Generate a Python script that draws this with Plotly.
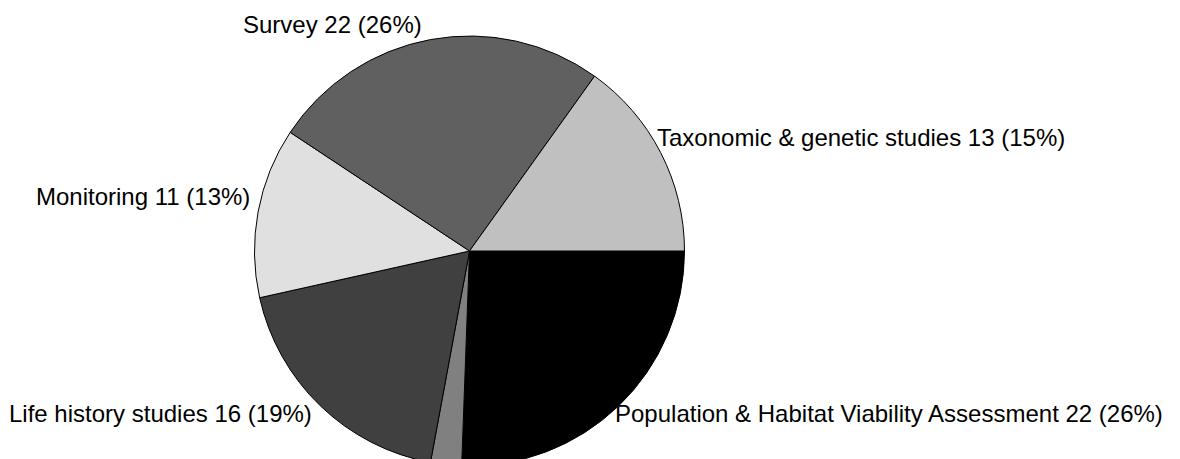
import math
import plotly.graph_objects as go

labels = ["Population & Habitat Viability Assessment", "Other", "Life history studies",
          "Monitoring", "Survey", "Taxonomic & genetic studies"]
values = [22, 2, 16, 11, 22, 13]
colors = ["#000000", "#808080", "#404040", "#e0e0e0", "#606060", "#c0c0c0"]
show_label = [True, False, True, True, True, True]

W, H = 1180, 480
cx, cy, r = 461.5, 243, 215   # pie centre / radius in figure pixels
font = dict(family="Liberation Sans, Arial, sans-serif", size=24, color="#000000")

fig = go.Figure(go.Pie(
    labels=labels,
    values=values,
    sort=False,
    direction="clockwise",
    rotation=90,
    marker=dict(colors=colors, line=dict(color="#000000", width=1)),
    textinfo="none",
    showlegend=False,
    hoverinfo="label+value+percent",
    domain=dict(x=[(cx - r) / W, (cx + r) / W], y=[(H - cy - r) / H, (H - cy + r) / H]),
))

# outside labels anchored at each slice's mid-angle on the rim
total = sum(values)
cum = 0.0
annotations = []
for lab, v, s in zip(labels, values, show_label):
    mid = (cum + v / 2) / total * 2 * math.pi   # clockwise from 3 o'clock
    cum += v
    if not s:
        continue
    px = cx + r * math.cos(mid)
    py = cy + r * math.sin(mid)          # screen y (down)
    pct = round(100 * v / total)
    below = math.sin(mid) >= 0
    annotations.append(dict(
        text=f"{lab} {v} ({pct}%)",
        x=px / W, y=1 - py / H, xref="paper", yref="paper",
        xanchor="left" if math.cos(mid) >= 0 else "right",
        yanchor="top" if below else "bottom",
        showarrow=False, font=font, xshift=-6, yshift=8 if below else 0,
    ))

fig.update_layout(
    width=W, height=H,
    margin=dict(l=0, r=0, t=0, b=0),
    paper_bgcolor="#ffffff",
    plot_bgcolor="#ffffff",
    font=font,
    annotations=annotations,
)

fig.write_html("out.html")
